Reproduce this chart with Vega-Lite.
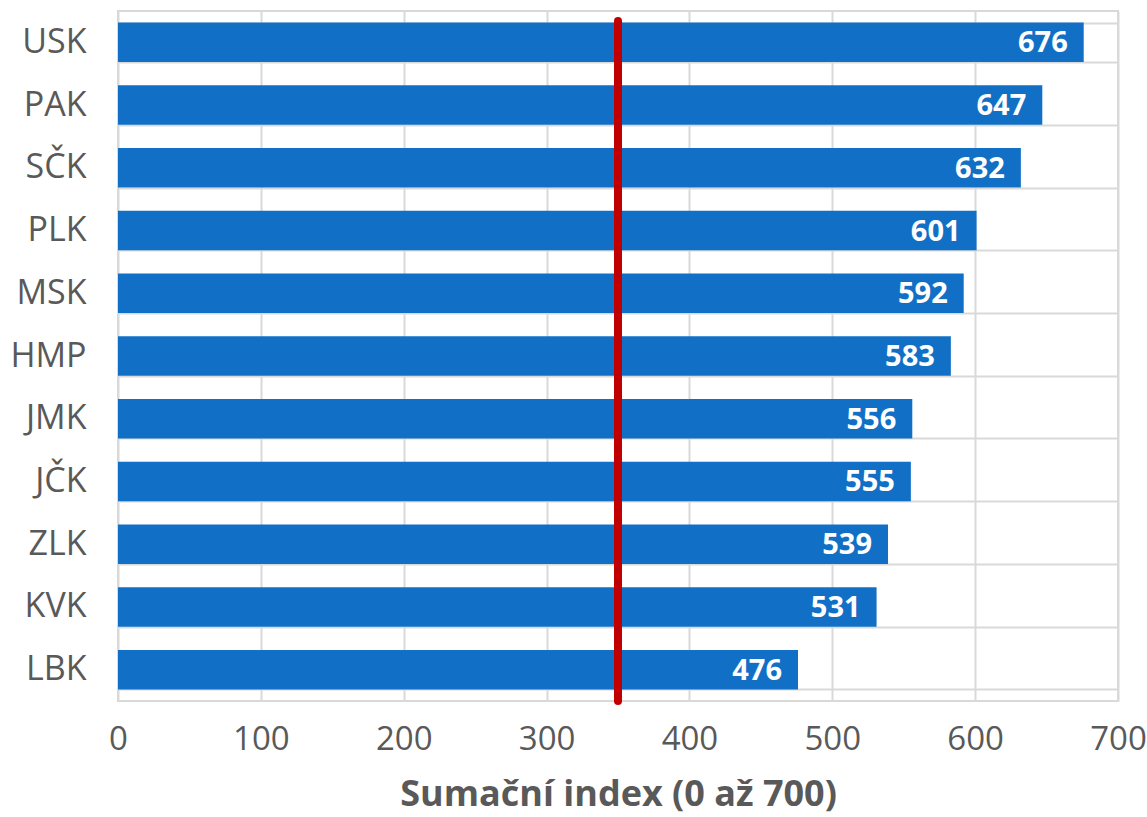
{
  "$schema": "https://vega.github.io/schema/vega-lite/v6.json",
  "width": 1000,
  "height": 690,
  "autosize": {"type": "none"},
  "padding": {"left": 118, "top": 11, "right": 29, "bottom": 116},
  "background": "white",
  "config": {
    "font": "Open Sans",
    "view": {"stroke": "#d9d9d9", "strokeWidth": 2}
  },
  "data": {
    "values": [
      {"kraj": "USK", "index": 676},
      {"kraj": "PAK", "index": 647},
      {"kraj": "SČK", "index": 632},
      {"kraj": "PLK", "index": 601},
      {"kraj": "MSK", "index": 592},
      {"kraj": "HMP", "index": 583},
      {"kraj": "JMK", "index": 556},
      {"kraj": "JČK", "index": 555},
      {"kraj": "ZLK", "index": 539},
      {"kraj": "KVK", "index": 531},
      {"kraj": "LBK", "index": 476}
    ]
  },
  "encoding": {
    "y": {
      "field": "kraj",
      "type": "nominal",
      "sort": null,
      "scale": {"paddingInner": 0.37, "paddingOuter": 0.185},
      "axis": {
        "title": null,
        "domain": false,
        "ticks": false,
        "tickBand": "extent",
        "grid": true,
        "gridColor": "#d9d9d9",
        "gridWidth": 2,
        "labelFont": "Open Sans",
        "labelFontSize": 34,
        "labelColor": "#595959",
        "labelPadding": 32
      }
    }
  },
  "layer": [
    {
      "mark": {"type": "bar", "color": "#1170c6"},
      "encoding": {
        "x": {
          "field": "index",
          "type": "quantitative",
          "scale": {"domain": [0, 700], "nice": false},
          "axis": {
            "values": [0, 100, 200, 300, 400, 500, 600, 700],
            "title": "Sumační index (0 až 700)",
            "titleFont": "Open Sans",
            "titleFontSize": 36,
            "titleFontWeight": "bold",
            "titleColor": "#595959",
            "titlePadding": 21,
            "domain": false,
            "ticks": false,
            "grid": true,
            "gridColor": "#d9d9d9",
            "gridWidth": 2,
            "labelFont": "Open Sans",
            "labelFontSize": 33,
            "labelColor": "#595959",
            "labelPadding": 22,
            "labelFlush": false
          }
        }
      }
    },
    {
      "mark": {
        "type": "text",
        "align": "right",
        "baseline": "middle",
        "dx": -16,
        "dy": 1,
        "color": "white",
        "fontWeight": "bold",
        "fontSize": 29,
        "font": "Open Sans"
      },
      "encoding": {
        "x": {"field": "index", "type": "quantitative"},
        "text": {"field": "index", "type": "quantitative"}
      }
    },
    {
      "data": {"values": [{"limit": 350}]},
      "mark": {"type": "rule", "color": "#c00000", "strokeWidth": 8, "strokeCap": "round"},
      "encoding": {
        "x": {"field": "limit", "type": "quantitative"},
        "y": {"value": 10},
        "y2": {"value": 690}
      }
    }
  ]
}
